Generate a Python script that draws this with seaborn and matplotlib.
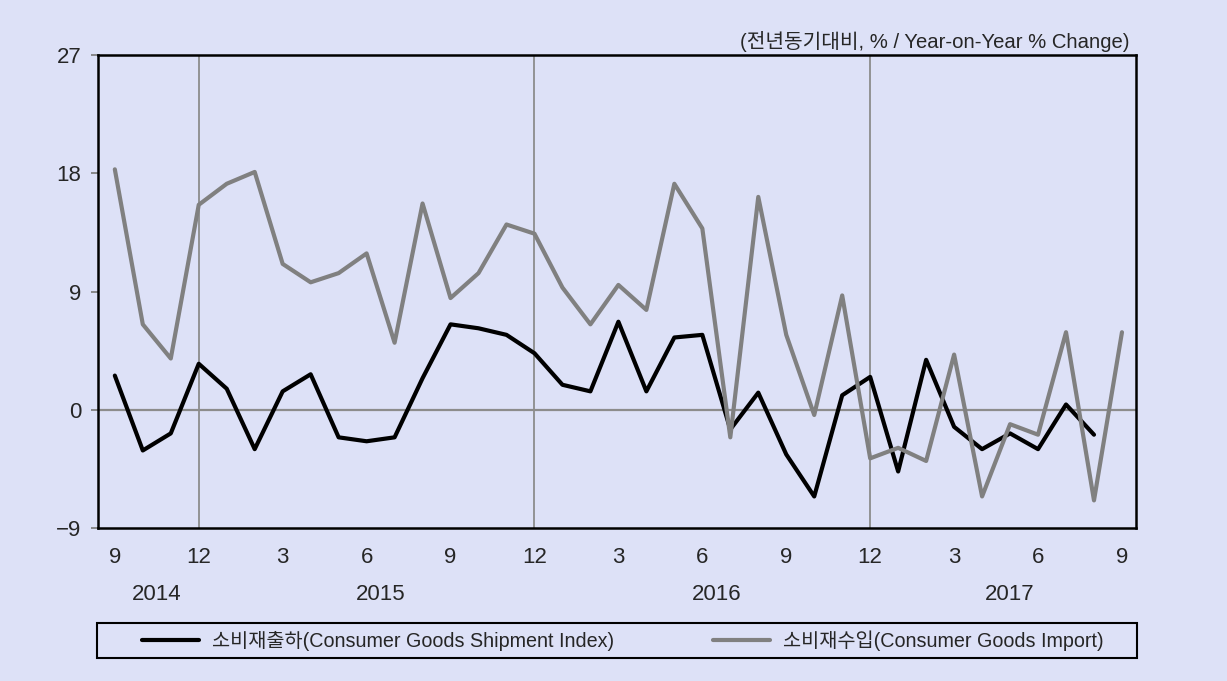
import pandas as pd
import matplotlib.pyplot as plt
import seaborn as sns
from matplotlib.patches import Rectangle
import matplotlib.transforms as mtransforms

# monthly categories, 2014-09 .. 2017-09
months = pd.period_range("2014-09", "2017-09", freq="M")

# year-on-year % change
shipment = [2.6, -3.1, -1.8, 3.5, 1.6, -3.0, 1.4, 2.7, -2.1, -2.4, -2.1, 2.4,
            6.5, 6.2, 5.7, 4.3, 1.9, 1.4, 6.7, 1.4, 5.5, 5.7, -1.5, 1.3,
            -3.4, -6.6, 1.1, 2.5, -4.7, 3.8, -1.3, -3.0, -1.8, -3.0, 0.4, -1.9]
imports = [18.3, 6.5, 3.9, 15.6, 17.2, 18.1, 11.1, 9.7, 10.4, 11.9, 5.1, 15.7,
           8.5, 10.4, 14.1, 13.4, 9.3, 6.5, 9.5, 7.6, 17.2, 13.8, -2.1, 16.2,
           5.7, -0.4, 8.7, -3.7, -2.9, -3.9, 4.2, -6.6, -1.1, -1.9, 5.9, -6.9, 5.9]

series_names = ["소비재출하(Consumer Goods Shipment Index)",
                "소비재수입(Consumer Goods Import)"]
series_colors = ["#000000", "#808080"]
unit_label = "(전년동기대비, % / Year-on-Year % Change)"
y_ticks = [-9, 0, 9, 18, 27]

bg = "#DDE1F7"

sns.set_style("white")
plt.rcParams["font.family"] = ["Liberation Sans", "Noto Sans CJK KR", "DejaVu Sans"]

rows = []
for i, v in enumerate(shipment):
    rows.append({"idx": i, "value": v, "series": series_names[0]})
for i, v in enumerate(imports):
    rows.append({"idx": i, "value": v, "series": series_names[1]})
df = pd.DataFrame(rows)

fig = plt.figure(figsize=(12.27, 6.81), dpi=100, facecolor=bg)
ax = fig.add_axes([0.0799, 0.2247, 0.8459, 0.6945])
ax.set_facecolor(bg)

# reference lines: zero and each December
ax.axhline(0, color="#8C8C8C", lw=1.6, zorder=1)
dec_idx = [i for i, m in enumerate(months) if m.month == 12]
for d in dec_idx:
    ax.axvline(d, color="#8C8C8C", lw=1.3, zorder=1)

sns.lineplot(data=df, x="idx", y="value", hue="series", hue_order=series_names,
             palette=dict(zip(series_names, series_colors)), linewidth=3.0,
             ax=ax, legend=True, zorder=3)

ax.set_xlim(-0.6, len(months) - 0.5)
ax.set_ylim(y_ticks[0], y_ticks[-1])
ax.set_yticks(y_ticks)
ax.set_yticklabels([str(t).replace("-", "\u2212") for t in y_ticks])

tick_idx = list(range(0, len(months), 3))
ax.set_xticks(tick_idx)
ax.set_xticklabels([str(months[i].month) for i in tick_idx])
ax.set_xlabel("")
ax.set_ylabel("")

ax.tick_params(axis="y", direction="out", length=5, width=1.3, pad=7,
               labelsize=16, left=True, color="#808080")
ax.tick_params(axis="x", length=0, pad=14, labelsize=16)

for s in ax.spines.values():
    s.set_color("black")
    s.set_linewidth(1.8)
    s.set_visible(True)

# year labels centred under their months
years = pd.Series(range(len(months)), index=[m.year for m in months])
trans = mtransforms.blended_transform_factory(ax.transData, ax.transAxes)
for yr, pos in years.groupby(level=0).mean().items():
    ax.text(pos, -0.141, str(yr), transform=trans, ha="center", va="center",
            fontsize=16)

ax.text(0.994, 1.028, unit_label, transform=ax.transAxes, ha="right",
        va="center", fontsize=14.6)

# legend box below the chart
handles, labels = ax.get_legend_handles_labels()
ax.get_legend().remove()
fig.patches.append(Rectangle((0.0791, 0.0338), 0.8476, 0.0514,
                             transform=fig.transFigure, fill=False,
                             edgecolor="black", linewidth=1.5))
fig.legend(handles, labels, loc="center", bbox_to_anchor=(0.5077, 0.0595),
           ncol=2, frameon=False, fontsize=14.2, handlelength=2.9,
           handletextpad=0.65, columnspacing=5.0)

fig.savefig("out.png", dpi=100, facecolor=bg)
